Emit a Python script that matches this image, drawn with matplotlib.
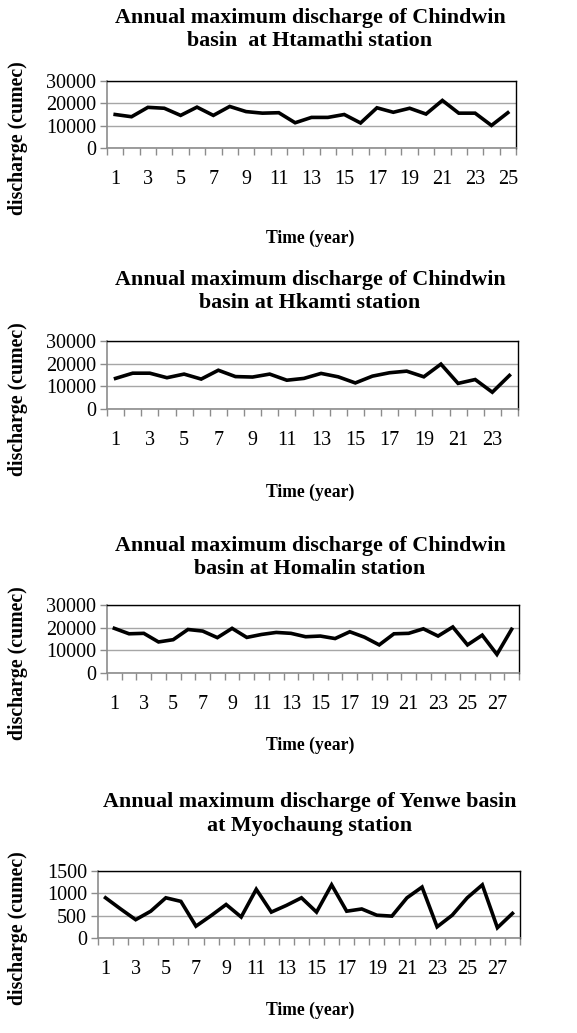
import numpy as np
import matplotlib.pyplot as plt
from matplotlib.ticker import FixedLocator, NullFormatter

plt.rcParams['font.family'] = ['Liberation Serif', 'DejaVu Serif']

# annual maximum discharge values (cumec)
htamathi = [15000, 14000, 18200, 17800, 14600, 18300, 14600, 18600, 16300, 15600,
            15800, 11300, 13700, 13700, 15000, 11200, 18000, 16000, 17800, 15200,
            21300, 15600, 15600, 10100, 15800]
hkamti = [13500, 15800, 15800, 13800, 15400, 13200, 17100, 14300, 14100, 15400,
          12700, 13500, 15700, 14200, 11500, 14500, 16000, 16700, 14200, 19800,
          11300, 13000, 7400, 14800]
homalin = [19700, 17300, 17500, 13700, 14700, 19200, 18500, 15600, 19700, 15700,
           17000, 17900, 17500, 16000, 16300, 15200, 18200, 15800, 12400, 17300,
           17500, 19500, 16300, 20300, 12400, 16700, 8200, 19300]
myochaung = [900, 650, 410, 600, 900, 820, 265, 500, 750, 470,
             1090, 580, 730, 900, 580, 1190, 600, 650, 510, 490,
             900, 1140, 250, 510, 900, 1190, 230, 550]

titles = ['Annual maximum discharge of Chindwin\nbasin  at Htamathi station',
          'Annual maximum discharge of Chindwin\nbasin at Hkamti station',
          'Annual maximum discharge of Chindwin\nbasin at Homalin station',
          'Annual maximum discharge of Yenwe basin\nat Myochaung station']
series = [htamathi, hkamti, homalin, myochaung]
yticks = [[0, 10000, 20000, 30000]] * 3 + [[0, 500, 1000, 1500]]

W, H = 577, 1033
# plot-area boxes in pixels: left, top, right, bottom
boxes = [(107, 81, 516, 148), (107, 341, 518, 409), (107, 605, 519, 673), (98, 871, 520, 938)]
title_y = [30, 291, 557, 814]
xlabel_y = [238, 492, 745, 1010]

fig = plt.figure(figsize=(W / 100, H / 100), dpi=100)
gray = '#8c8c8c'

for vals, title, yt, box, ty, xy in zip(series, titles, yticks, boxes, title_y, xlabel_y):
    l, t, r, b = box
    ax = fig.add_axes([l / W, 1 - b / H, (r - l) / W, (b - t) / H])
    n = len(vals)
    x = np.arange(1, n + 1)
    ax.plot(x, vals, color='black', lw=2.6, solid_joinstyle='miter')
    ax.set_xlim(0.5, n + 0.5)
    ax.set_ylim(yt[0], yt[-1])
    ax.set_yticks(yt)
    ax.set_yticklabels([str(v) for v in yt], fontsize=14.5)
    ax.set_xticks(x[::2])
    ax.set_xticklabels([str(v) for v in x[::2]], fontsize=14.5)
    ax.tick_params(axis='x', which='major', length=0, pad=16)
    ax.xaxis.set_minor_locator(FixedLocator(np.arange(0.5, n + 1, 1)))
    ax.xaxis.set_minor_formatter(NullFormatter())
    ax.tick_params(axis='x', which='minor', length=5, color=gray, width=1)
    ax.tick_params(axis='y', length=5, color=gray, width=1, pad=3)
    ax.grid(axis='y', color='#a6a6a6', lw=1)
    ax.set_axisbelow(True)
    for s in ['left', 'bottom']:
        ax.spines[s].set_color(gray)
        ax.spines[s].set_linewidth(1.2)
    for s in ['top', 'right']:
        ax.spines[s].set_color('black')
        ax.spines[s].set_linewidth(1)
    ax.spines['bottom'].set_zorder(3)
    fig.text(310 / W, 1 - ty / H, title, ha='center', va='center',
             fontsize=15.8, fontweight='bold', linespacing=1.2)
    fig.text(310 / W, 1 - xy / H, 'Time (year)', ha='center', va='center',
             fontsize=12.7, fontweight='bold')
    fig.text(18 / W, 1 - ((t + b) / 2 + 24) / H, 'discharge (cumec)', ha='center', va='center',
             rotation=90, fontsize=14.3, fontweight='bold')

fig.savefig('out.png', dpi=100)
